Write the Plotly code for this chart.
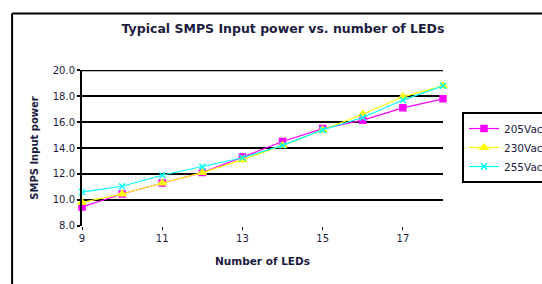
import plotly.graph_objects as go

leds = [9, 10, 11, 12, 13, 14, 15, 16, 17, 18]
v205 = [9.45, 10.45, 11.3, 12.1, 13.3, 14.5, 15.5, 16.15, 17.1, 17.8]
v230 = [9.8, 10.45, 11.3, 12.1, 13.1, 14.2, 15.4, 16.6, 17.95, 18.8]
v255 = [10.6, 11.05, 11.9, 12.55, 13.25, 14.2, 15.4, 16.35, 17.7, 18.8]
names = ["205Vac", "230Vac", "255Vac"]
x_ticks = [9, 11, 13, 15, 17]
y_ticks = [8, 10, 12, 14, 16, 18, 20]

FONT = "DejaVu Sans, Liberation Sans, Arial, sans-serif"
TXT = "#1c1c40"
L, R, T, B = 81.5, 443, 70, 226
W, H = 542, 284

def px(x):
    return (x - L) / (R - L)

def py(y):
    return (B - y) / (B - T)

fig = go.Figure()
series = [
    (v205, names[0], "#ff00ff", "square", 6),
    (v230, names[1], "#ffff00", "triangle-up", 7),
    (v255, names[2], "#00ffff", "x-thin", 6),
]
for vals, nm, col, sym, sz in series:
    fig.add_trace(go.Scatter(
        x=leds, y=vals, name=nm, mode="lines+markers",
        line=dict(color=col, width=1.2),
        marker=dict(color=col, symbol=sym, size=sz,
                    line=dict(color=col, width=1.5)),
        cliponaxis=False,
    ))

fig.update_layout(
    width=W, height=H,
    margin=dict(l=L, r=W - R, t=T, b=H - B, autoexpand=False),
    paper_bgcolor="white", plot_bgcolor="white",
    font=dict(family=FONT, size=8, color=TXT),
    title=dict(text="<b>Typical SMPS Input power vs. number of LEDs</b>",
               x=283 / W, xanchor="center", yref="container",
               y=1 - 29 / H, yanchor="middle",
               font=dict(size=12.5, color=TXT, family=FONT)),
    xaxis=dict(range=[9, 18], tickvals=x_ticks, showgrid=False,
               showline=False, zeroline=False, automargin=False,
               ticks="outside", ticklen=3, tickcolor="black", tickwidth=1,
               tickfont=dict(size=10, color=TXT),
               title=dict(text="<b>Number of LEDs</b>", standoff=14,
                          font=dict(size=10.5, color=TXT))),
    yaxis=dict(range=[7.98, 20.02], tickvals=y_ticks,
               ticktext=[f"{v:.1f}" for v in y_ticks],
               showgrid=True, gridcolor="black", gridwidth=2,
               showline=True, linecolor="black", linewidth=2,
               zeroline=False, automargin=False,
               ticks="outside", ticklen=3, tickcolor="black",
               tickwidth=2, tickfont=dict(size=10, color=TXT),
               title=dict(text="<b>SMPS Input power</b>", standoff=12,
                          font=dict(size=10, color=TXT))),
    legend=dict(x=px(462), y=py(112), xanchor="left", yanchor="top",
                bgcolor="white", bordercolor="black", borderwidth=2,
                font=dict(size=10.5, color=TXT), tracegroupgap=0,
                itemwidth=30),
    showlegend=True,
    shapes=[
        dict(type="line", xref="paper", yref="paper",
             x0=px(11.5), x1=px(600), y0=py(13.5), y1=py(13.5),
             line=dict(color="black", width=2), layer="below"),
        dict(type="line", xref="paper", yref="paper",
             x0=px(11.5), x1=px(11.5), y0=py(13.5), y1=py(400),
             line=dict(color="black", width=2), layer="below"),
        dict(type="line", xref="paper", yref="y",
             x0=0, x1=1, y0=y_ticks[-1], y1=y_ticks[-1],
             line=dict(color="black", width=2), layer="below"),
    ],
)

fig.write_html("out.html", config={"displayModeBar": False},
               post_script="document.body.style.margin='0';document.body.style.overflow='hidden';")
